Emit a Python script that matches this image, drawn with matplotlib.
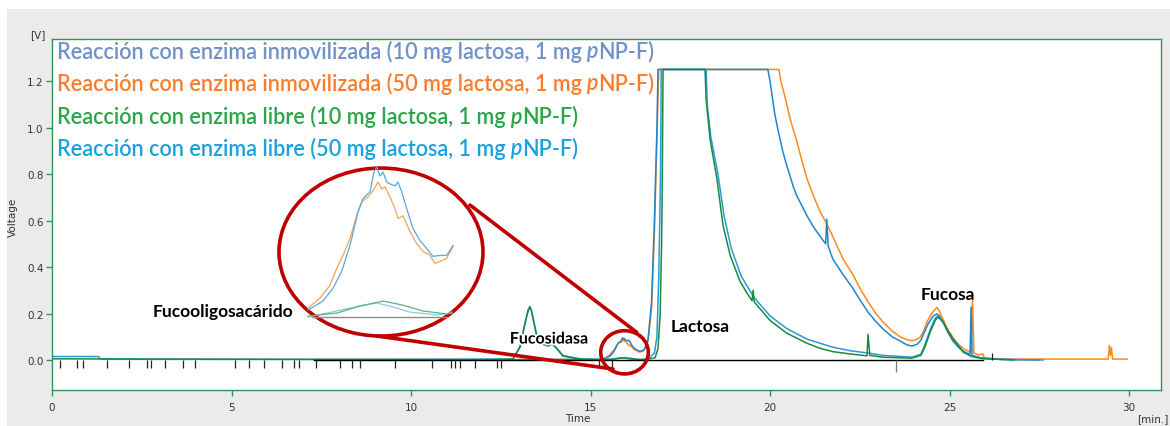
import matplotlib
matplotlib.use('Agg')
import matplotlib.pyplot as plt
from matplotlib.patches import Ellipse, Rectangle
import matplotlib.patheffects as pe

# chromatogram traces: (time [min], voltage [V])
# enzima inmovilizada, 50 mg lactosa (orange)
inm50 = [(12.5, 0.0), (13.0, 0.002), (14.0, 0.003), (14.8, 0.002), (15.3, 0.003),
         (15.352, 0.0057), (15.445, 0.012), (15.524, 0.0201), (15.578, 0.0308), (15.628, 0.039),
         (15.683, 0.0497), (15.736, 0.0642), (15.776, 0.073), (15.826, 0.0761), (15.866, 0.0799),
         (15.905, 0.0855), (15.935, 0.0811), (15.961, 0.0824), (16.0, 0.0761), (16.04, 0.0686),
         (16.064, 0.0623), (16.103, 0.0642), (16.159, 0.0541), (16.212, 0.0465), (16.262, 0.0415),
         (16.318, 0.039), (16.357, 0.034), (16.397, 0.0352), (16.45, 0.0371), (16.5, 0.0447),
         (16.6, 0.08), (16.7, 0.22), (16.78, 0.55), (16.85, 0.95), (16.9, 1.25),
         (20.25, 1.25), (20.3, 1.2), (20.36, 1.166), (20.45, 1.11), (20.56, 1.037), (20.65, 0.99),
         (20.75, 0.938), (20.9, 0.85), (21.03, 0.78), (21.2, 0.71), (21.39, 0.64), (21.6, 0.58),
         (21.87, 0.49), (22.05, 0.43), (22.3, 0.37), (22.5, 0.31), (22.73, 0.25), (22.95, 0.2),
         (23.15, 0.163), (23.4, 0.125), (23.62, 0.10), (23.8, 0.088), (23.95, 0.083), (24.08, 0.088),
         (24.18, 0.098), (24.28, 0.125), (24.37, 0.164), (24.5, 0.2), (24.6, 0.218), (24.65, 0.226),
         (24.7, 0.215), (24.82, 0.175), (24.9, 0.148), (25.0, 0.12), (25.15, 0.085), (25.3, 0.06),
         (25.45, 0.043), (25.6, 0.033), (25.64, 0.258), (25.68, 0.03), (25.8, 0.022), (25.93, 0.026),
         (25.96, 0.012), (26.0, 0.01), (26.2, 0.006), (26.5, 0.004), (29.42, 0.004), (29.45, 0.062),
         (29.48, 0.02), (29.51, 0.055), (29.54, 0.004), (29.95, 0.004)]

# enzima inmovilizada, 10 mg lactosa (blue)
inm10 = [(12.5, 0.0), (13.0, 0.002), (14.0, 0.002), (15.3, 0.003),
         (15.35, 0.0044), (15.469, 0.0101), (15.548, 0.0182), (15.617, 0.0289), (15.683, 0.0453),
         (15.747, 0.0667), (15.786, 0.0749), (15.842, 0.0793), (15.873, 0.0918), (15.895, 0.095),
         (15.921, 0.0893), (15.945, 0.0918), (15.974, 0.0855), (16.0, 0.0843), (16.04, 0.083),
         (16.064, 0.0855), (16.093, 0.0793), (16.133, 0.0686), (16.183, 0.056), (16.238, 0.0484),
         (16.291, 0.0434), (16.341, 0.0384), (16.397, 0.039), (16.45, 0.039), (16.5, 0.0453),
         (16.6, 0.085), (16.7, 0.25), (16.78, 0.6), (16.85, 1.0), (16.88, 1.25),
         (19.94, 1.25), (20.0, 1.2), (20.06, 1.135), (20.13, 1.06), (20.2, 1.006), (20.28, 0.95),
         (20.36, 0.895), (20.46, 0.84), (20.56, 0.79), (20.65, 0.745), (20.75, 0.705), (20.9, 0.66),
         (21.03, 0.62), (21.2, 0.575), (21.39, 0.533), (21.55, 0.5), (21.58, 0.606), (21.62, 0.49),
         (21.75, 0.434), (22.0, 0.375), (22.3, 0.31), (22.5, 0.26), (22.73, 0.206), (22.95, 0.165),
         (23.15, 0.133), (23.4, 0.1), (23.62, 0.082), (23.8, 0.066), (23.95, 0.06), (24.1, 0.068),
         (24.2, 0.085), (24.3, 0.12), (24.4, 0.155), (24.55, 0.19), (24.65, 0.198), (24.72, 0.19),
         (24.82, 0.163), (24.95, 0.12), (25.1, 0.08), (25.3, 0.047), (25.45, 0.032), (25.57, 0.025),
         (25.6, 0.228), (25.63, 0.02), (25.8, 0.012), (26.0, 0.006), (26.5, 0.002), (27.5, 0.0)]

# enzima libre, 50 mg lactosa (light blue)
lib50 = [(0.0, 0.015), (1.3, 0.015), (1.35, 0.003), (7.3, 0.002), (12.84, 0.004), (13.04, 0.055),
         (13.18, 0.16), (13.26, 0.215), (13.31, 0.23), (13.35, 0.215), (13.4, 0.18), (13.5, 0.11),
         (13.65, 0.072), (13.82, 0.062), (13.93, 0.07), (14.07, 0.05), (14.23, 0.02), (14.7, 0.005),
         (15.35, 0.0), (15.578, 0.0038), (15.786, 0.0075), (15.897, 0.0088), (16.0, 0.0069),
         (16.159, 0.0031), (16.373, 0.0013), (16.492, 0.0025), (16.6, 0.005), (16.78, 0.03),
         (16.85, 0.1), (16.9, 0.35), (16.95, 0.8), (16.97, 1.25), (18.22, 1.25), (18.25, 1.1),
         (18.35, 0.96), (18.55, 0.8), (18.72, 0.62), (18.92, 0.48), (19.2, 0.36), (19.55, 0.27),
         (20.0, 0.19), (20.47, 0.135), (21.03, 0.09), (21.75, 0.055), (22.23, 0.04), (22.73, 0.03),
         (23.15, 0.02), (23.95, 0.012), (24.2, 0.025), (24.3, 0.06), (24.46, 0.13), (24.6, 0.18),
         (24.68, 0.19), (24.82, 0.165), (24.95, 0.125), (25.1, 0.09), (25.38, 0.036), (25.6, 0.018),
         (25.9, 0.008), (26.5, 0.003), (27.6, 0.0)]

# enzima libre, 10 mg lactosa (green)
lib10 = [(0.0, 0.005), (7.3, 0.003), (12.0, 0.002), (12.84, 0.004), (13.04, 0.06), (13.18, 0.163),
         (13.26, 0.21), (13.31, 0.228), (13.35, 0.215), (13.4, 0.176), (13.5, 0.103), (13.65, 0.069),
         (13.82, 0.06), (13.93, 0.069), (14.07, 0.047), (14.23, 0.017), (14.7, 0.004),
         (15.35, 0.0006), (15.578, 0.0025), (15.762, 0.0069), (15.945, 0.0101), (16.103, 0.0075),
         (16.262, 0.0038), (16.45, 0.0019), (16.492, 0.0031), (16.6, 0.004), (16.8, 0.01),
         (16.88, 0.05), (16.94, 0.2), (16.98, 0.5), (17.0, 0.8), (17.02, 1.25), (18.19, 1.25),
         (18.22, 1.12), (18.33, 0.95), (18.52, 0.78), (18.69, 0.58), (18.89, 0.45), (19.16, 0.34),
         (19.35, 0.29), (19.5, 0.255), (19.53, 0.3), (19.56, 0.25), (20.0, 0.17), (20.47, 0.115),
         (21.03, 0.072), (21.4, 0.05), (21.75, 0.036), (22.23, 0.026), (22.7, 0.018), (22.73, 0.11),
         (22.78, 0.02), (23.15, 0.012), (23.95, 0.008), (24.2, 0.02), (24.3, 0.05), (24.46, 0.12),
         (24.6, 0.17), (24.68, 0.185), (24.82, 0.163), (24.95, 0.125), (25.1, 0.09), (25.38, 0.034),
         (25.6, 0.016), (25.9, 0.006), (26.8, 0.0)]

# integration baseline and peak markers
baseline_t = [7.3, 25.93]
marks_down = [0.21, 0.71, 0.85, 1.53, 2.15, 2.66, 2.75, 3.15, 3.66, 3.98, 5.11, 5.50, 5.91,
              6.42, 6.74, 6.89, 7.36, 8.01, 8.37, 8.58, 9.54, 10.58, 11.12, 11.23, 11.37,
              11.78, 12.39, 12.50, 15.23, 15.6]
marks_long = [23.52]
marks_up = [26.17]
inset_base_t = [15.38, 16.45]

legend_labels = ["Reacción con enzima inmovilizada (10 mg lactosa, 1 mg",
                 "Reacción con enzima inmovilizada (50 mg lactosa, 1 mg",
                 "Reacción con enzima libre (10 mg lactosa, 1 mg",
                 "Reacción con enzima libre (50 mg lactosa, 1 mg"]
legend_colors = ['#7092c8', '#fb7d2c', '#2aa548', '#1ba0e0']

peak_names = ["Fucooligosacárido", "Fucosidasa", "Lactosa", "Fucosa"]
peak_pos = [(4.76, 0.213), (13.84, 0.088), (18.05, 0.146), (24.96, 0.284)]

W, H = 1170, 427
fig = plt.figure(figsize=(W / 100, H / 100), dpi=100)
fig.patch.set_facecolor('white')
fig.patches.append(Rectangle((7 / W, 0), 1, 1 - 10 / H, transform=fig.transFigure,
                             facecolor='#ebebeb', edgecolor='none', zorder=-5))

frame = '#2f9457'
ax = fig.add_axes([52 / W, 1 - 391 / H, (1161 - 52) / W, (391 - 40) / H])
ax.set_facecolor('white')
ax.set_xlim(0, 30.89)
ax.set_ylim(-0.129, 1.381)
for s in ax.spines.values():
    s.set_color(frame)
    s.set_linewidth(1.0)
ax.set_xticks(range(0, 31, 5))
ax.set_yticks([0, 0.2, 0.4, 0.6, 0.8, 1.0, 1.2])
ax.set_yticklabels(['0.0', '0.2', '0.4', '0.6', '0.8', '1.0', '1.2'])
ax.tick_params(colors=frame, labelcolor='#333333', labelsize=7.5, length=4, width=1)
ax.tick_params(axis='x', pad=5)
ax.tick_params(axis='y', pad=2)

series = [(inm50, '#ff8a1c'), (inm10, '#1f86cb'), (lib50, '#2a9ad6'), (lib10, '#178c40')]
for data, c in series:
    t, v = zip(*data)
    ax.plot(t, v, color=c, lw=1.1, zorder=2)

ax.plot(baseline_t, [0, 0], color='black', lw=1.0, zorder=3)
ax.vlines(marks_down, -0.035, 0, color='#222222', lw=0.9, zorder=3)
ax.vlines(marks_long, -0.05, 0, color='#777777', lw=0.9, zorder=3)
ax.vlines(marks_up, 0, 0.03, color='#222222', lw=0.9, zorder=3)

# red zoom ellipses
red = '#c00000'
ax.add_patch(Ellipse((9.164, 0.4645), 5.682, 0.7226, fill=False, ec=red, lw=2.6,
                     zorder=5, clip_on=False))
ax.add_patch(Ellipse((15.947, 0.0331), 1.326, 0.186, fill=False, ec=red, lw=2.6,
                     zorder=5, clip_on=False))
ax.plot([11.643, 16.287], [0.6667, 0.119], color=red, lw=2.6, zorder=5,
        solid_capstyle='round')
ax.plot([9.053, 15.627], [0.1032, -0.0387], color=red, lw=2.6, zorder=5,
        solid_capstyle='round')

for name, (x, y) in zip(peak_names, peak_pos):
    txt = ax.text(x, y, name, ha='center', va='center', fontsize=12.5,
                  fontweight='bold', family='Lato', color='black', zorder=6)
    if name == "Fucosidasa":
        txt.set_fontsize(11.5)
        txt.set_path_effects([pe.withStroke(linewidth=2.5, foreground='white')])

# magnified view inside the big ellipse
axin = fig.add_axes([308 / W, 1 - 318 / H, 145 / W, 150 / H])
axin.set_xlim(15.35, 16.5)
axin.set_ylim(0, 0.095)
axin.axis('off')
axin.patch.set_alpha(0)
axin.plot(inset_base_t, [0, 0], color='#8c8c8c', lw=1.0, clip_on=False)
inset_colors = ['#f8a25a', '#58a8de', '#8cc8ee', '#5cb47a']
for (data, _), c in zip(series, inset_colors):
    t, v = zip(*[p for p in data if 15.34 <= p[0] <= 16.51])
    axin.plot(t, v, color=c, lw=0.9, clip_on=False)

# coloured legend lines with italic p
renderer = fig.canvas.get_renderer()
ys = [52, 84, 117, 149]
for label, c, yp in zip(legend_labels, legend_colors, ys):
    x = 57 / W
    for piece, style in [(label, 'normal'), (" p", 'italic'), ("NP-F)", 'normal')]:
        t = fig.text(x, 1 - yp / H, piece, color=c, fontsize=15.6, fontstyle=style,
                     fontweight='semibold', family='Lato', va='center', ha='left', zorder=7)
        bb = t.get_window_extent(renderer)
        x = bb.x1 / W

fig.text(38 / W, 1 - 35 / H, "[V]", fontsize=7.5, color='#333333', ha='center', va='center')
fig.text(13 / W, 1 - 217 / H, "Voltage", fontsize=7.5, color='#333333', rotation=90,
         ha='center', va='center')
fig.text(578 / W, 1 - 419 / H, "Time", fontsize=7.5, color='#333333', ha='center', va='center')
fig.text(1168 / W, 1 - 419 / H, "[min.]", fontsize=7.5, color='#333333', ha='right', va='center')

fig.savefig('out.png', dpi=100)
